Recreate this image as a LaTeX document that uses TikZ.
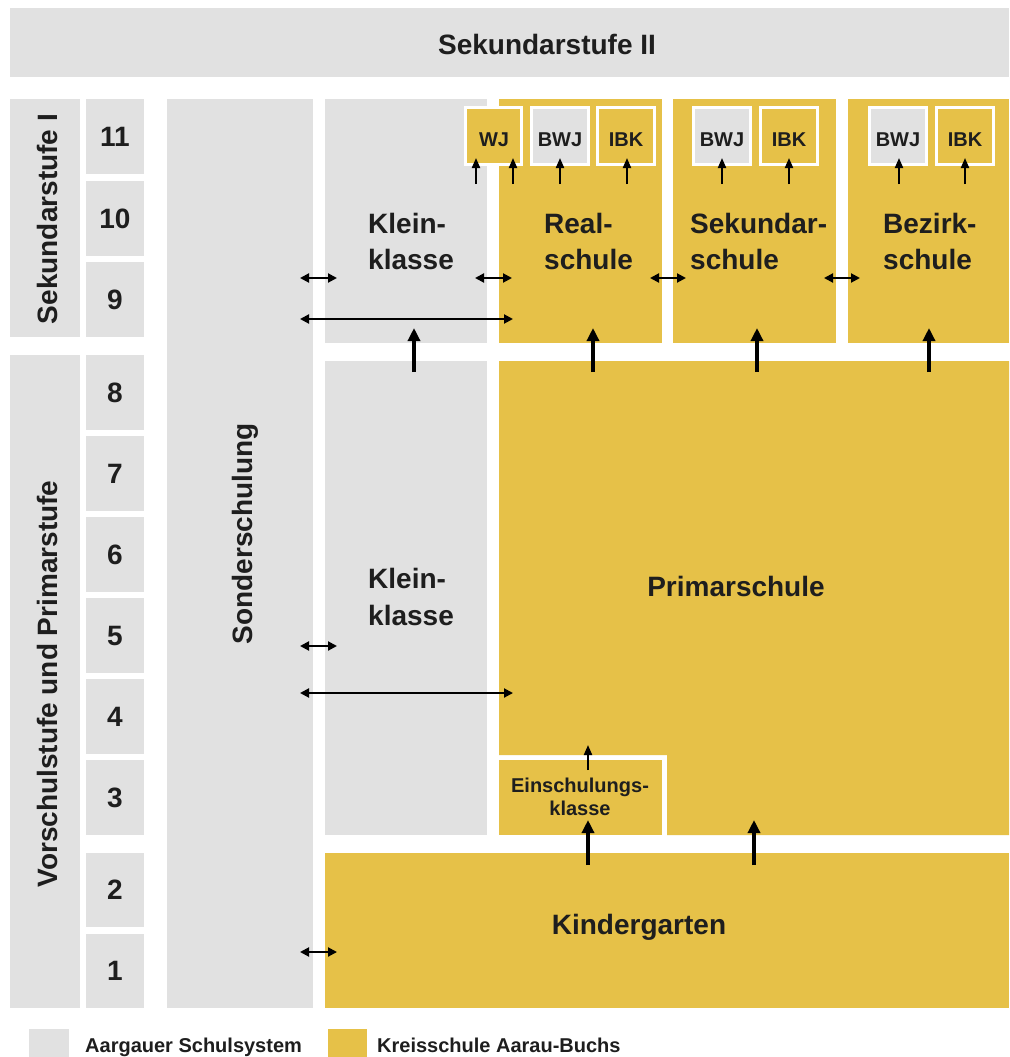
\documentclass[tikz,border=0pt]{standalone}
\usepackage{fontspec}
\setmainfont{Liberation Sans}
\usetikzlibrary{arrows.meta,fit}
\definecolor{grau}{HTML}{E1E1E1}
\definecolor{gelb}{HTML}{E6C148}
\definecolor{schrift}{HTML}{1E1E1E}
\newcommand\myblock[6]{\node[fit={(#2,#3)(#4,#5)}, inner sep=0pt, outer sep=0pt, fill=#6] (#1) {};}
\newcommand\mysmallbox[6]{\node[fit={(#2+1.3,#3+1.3)(#4-1.3,#5-1.3)}, inner sep=0pt, outer sep=0pt, fill=#6, draw=white, line width=2.6pt] (#1) {};}
\begin{document}
\begin{tikzpicture}[x=1pt,y=-1pt,
  lab/.style={font=\fontsize{28}{34}\selectfont\bfseries, text=schrift, inner sep=0pt},
  sml/.style={font=\fontsize{20}{24}\selectfont\bfseries, text=schrift, inner sep=0pt},
  bigup/.style={-{Triangle[length=13pt,width=12pt]}, line width=3.4pt, draw=black},
  smallup/.style={-{Triangle[length=10pt,width=8pt]}, line width=2pt, draw=black},
  dbl/.style={{Triangle[length=9pt,width=9pt]}-{Triangle[length=9pt,width=9pt]}, line width=2pt, draw=black}]
\useasboundingbox (0,0) rectangle (1009,1057);
\fill[white] (0,0) rectangle (1009,1057);

% top bar
\myblock{sek2}{10}{8}{1009}{77}{grau}
\node[lab, anchor=base] (sek2lab) at (547,55) {Sekundarstufe II};

% left columns
\myblock{sek1}{10}{99}{80}{337}{grau}
\myblock{vps}{10}{355}{80}{1008}{grau}
\node[lab, rotate=90, anchor=base] (sek1lab) at (57,219) {Sekundarstufe I};
\node[lab, rotate=90, anchor=base] (vpslab) at (57,684) {Vorschulstufe und Primarstufe};

% grade boxes
\myblock{g11}{86}{99}{144}{174}{grau}
\myblock{g10}{86}{181}{144}{256}{grau}
\myblock{g9}{86}{262}{144}{337}{grau}
\myblock{g8}{86}{355}{144}{430}{grau}
\myblock{g7}{86}{436}{144}{511}{grau}
\myblock{g6}{86}{517}{144}{592}{grau}
\myblock{g5}{86}{598}{144}{673}{grau}
\myblock{g4}{86}{679}{144}{754}{grau}
\myblock{g3}{86}{760}{144}{835}{grau}
\myblock{g2}{86}{853}{144}{927}{grau}
\myblock{g1}{86}{934}{144}{1008}{grau}
\foreach \n in {11,10,9,8,7,6,5,4,3,2,1}{\node[lab] (t\n) at (g\n.center) {\n};}

% Sonderschulung
\myblock{sonder}{167}{99}{313}{1008}{grau}
\node[lab, rotate=90, anchor=base] (sonderlab) at (252,534) {Sonderschulung};

% upper row
\myblock{kk1}{325}{99}{487}{343}{grau}
\myblock{real}{499}{99}{662}{343}{gelb}
\myblock{sekschule}{673}{99}{836}{343}{gelb}
\myblock{bez}{848}{99}{1009}{343}{gelb}
\node[lab, anchor=base west] (kk1a) at (368,233) {Klein-};
\node[lab, anchor=base west] (kk1b) at (368,269) {klasse};
\node[lab, anchor=base west] (reala) at (544,233) {Real-};
\node[lab, anchor=base west] (realb) at (544,269) {schule};
\node[lab, anchor=base west] (seka) at (690,233) {Sekundar-};
\node[lab, anchor=base west] (sekb) at (690,269) {schule};
\node[lab, anchor=base west] (beza) at (883,233) {Bezirk-};
\node[lab, anchor=base west] (bezb) at (883,269) {schule};

% small boxes
\mysmallbox{wj}{464}{106}{523}{166}{gelb}
\mysmallbox{bwj1}{530}{106}{590}{166}{grau}
\mysmallbox{ibk1}{596}{106}{656}{166}{gelb}
\mysmallbox{bwj2}{692}{106}{752}{166}{grau}
\mysmallbox{ibk2}{759}{106}{819}{166}{gelb}
\mysmallbox{bwj3}{868}{106}{928}{166}{grau}
\mysmallbox{ibk3}{935}{106}{995}{166}{gelb}
\node[sml, anchor=base] (wjl) at (494,146) {WJ};
\node[sml, anchor=base] (bwj1l) at (560,146) {BWJ};
\node[sml, anchor=base] (ibk1l) at (626,146) {IBK};
\node[sml, anchor=base] (bwj2l) at (722,146) {BWJ};
\node[sml, anchor=base] (ibk2l) at (789,146) {IBK};
\node[sml, anchor=base] (bwj3l) at (898,146) {BWJ};
\node[sml, anchor=base] (ibk3l) at (965,146) {IBK};

% lower row
\myblock{kk2}{325}{361}{487}{835}{grau}
\fill[gelb] (499,361) -- (1009,361) -- (1009,835) -- (667,835) -- (667,755) -- (499,755) -- cycle;
\node[lab, anchor=base] (prim) at (736,596) {Primarschule};
\node[lab, anchor=base west] (kk2a) at (368,588) {Klein-};
\node[lab, anchor=base west] (kk2b) at (368,625) {klasse};
\myblock{einsch}{499}{760}{662}{835}{gelb}
\node[sml, anchor=base] (einscha) at (580,792) {Einschulungs-};
\node[sml, anchor=base] (einschb) at (580,815) {klasse};

% Kindergarten
\myblock{kg}{325}{853}{1009}{1008}{gelb}
\node[lab, anchor=base] (kglab) at (639,934) {Kindergarten};

% legend
\myblock{leggrau}{29}{1029}{69}{1057}{grau}
\myblock{leggelb}{328}{1029}{367}{1057}{gelb}
\node[sml, anchor=base west] (leg1) at (85,1052) {Aargauer Schulsystem};
\node[sml, anchor=base west] (leg2) at (377,1052) {Kreisschule Aarau-Buchs};

% coordinates for arrows
\foreach \nm/\x in {u1/414,u2/593,u3/757,u4/929}{
  \coordinate (\nm s) at (\x,372); \coordinate (\nm e) at (\x,328);}
\foreach \nm/\x in {s1/476,s2/513,s3/560,s4/627,s5/722,s6/789,s7/899,s8/965}{
  \coordinate (\nm s) at (\x,184); \coordinate (\nm e) at (\x,158);}
\coordinate (e1s) at (588,865); \coordinate (e1e) at (588,820);
\coordinate (e2s) at (754,865); \coordinate (e2e) at (754,820);
\coordinate (e3s) at (588,770); \coordinate (e3e) at (588,745);
\coordinate (d1a) at (300,278); \coordinate (d1b) at (337,278);
\coordinate (d2a) at (475,278); \coordinate (d2b) at (512,278);
\coordinate (d3a) at (650,278); \coordinate (d3b) at (686,278);
\coordinate (d4a) at (824,278); \coordinate (d4b) at (860,278);
\coordinate (d5a) at (300,319); \coordinate (d5b) at (513,319);
\coordinate (d6a) at (300,646); \coordinate (d6b) at (337,646);
\coordinate (d7a) at (300,693); \coordinate (d7b) at (513,693);
\coordinate (d8a) at (300,952); \coordinate (d8b) at (337,952);

\foreach \nm in {u1,u2,u3,u4,e1,e2}{\draw[bigup] (\nm s) -- (\nm e);}
\foreach \nm in {s1,s2,s3,s4,s5,s6,s7,s8,e3}{\draw[smallup] (\nm s) -- (\nm e);}
\foreach \nm in {d1,d2,d3,d4,d5,d6,d7,d8}{\draw[dbl] (\nm a) -- (\nm b);}
\end{tikzpicture}
\end{document}
